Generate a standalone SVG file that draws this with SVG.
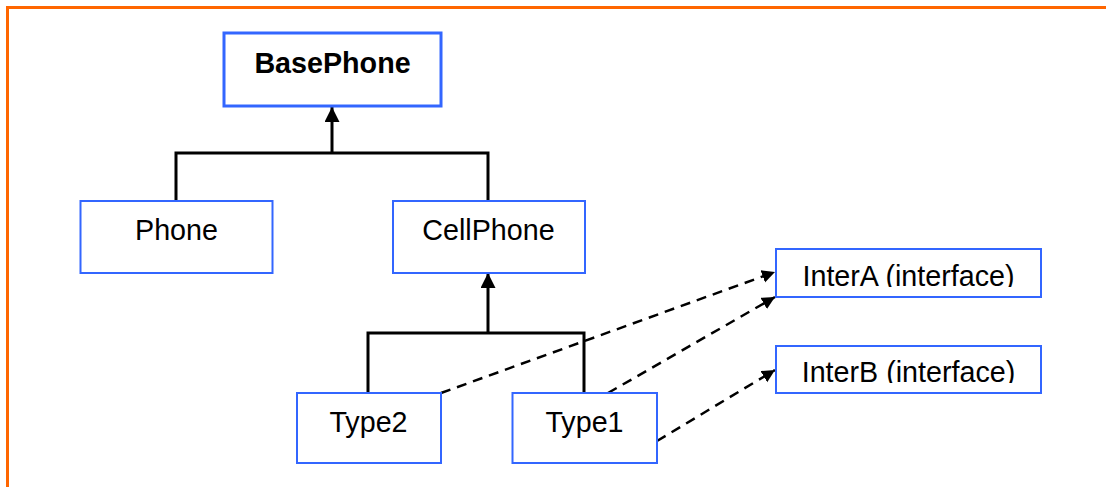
<svg xmlns="http://www.w3.org/2000/svg" width="1106" height="487" viewBox="0 0 1106 487">
  <style>
    .box { fill: #ffffff; stroke: #3366ff; stroke-width: 2; }
    .box-main { fill: #ffffff; stroke: #3366ff; stroke-width: 3; }
    .label { font-family: "Liberation Sans", Arial, sans-serif; font-size: 28.7px; fill: #000000; text-anchor: middle; }
    .bold { font-weight: bold; }
    .inherit { fill: none; stroke: #000000; stroke-width: 3; }
    .realize { fill: none; stroke: #000000; stroke-width: 2.5; stroke-dasharray: 10 7; }
  </style>
  <defs>
    <marker id="solidHead" markerUnits="userSpaceOnUse" markerWidth="16" markerHeight="16" refX="15" refY="7.5" orient="auto">
      <path d="M0,0 L15,7.5 L0,15 z" fill="#000000"/>
    </marker>
    <marker id="dashHead" markerUnits="userSpaceOnUse" markerWidth="14" markerHeight="14" refX="13" refY="6.5" orient="auto">
      <path d="M0,0 L13,6.5 L0,13 z" fill="#000000"/>
    </marker>
    <clipPath id="clipA"><rect x="776" y="249" width="265" height="38"/></clipPath>
    <clipPath id="clipB"><rect x="776" y="346" width="265" height="37"/></clipPath>
  </defs>

  <!-- outer frame -->
  <path d="M7.5,487 L7.5,7.5 L1106,7.5" fill="none" stroke="#ff6600" stroke-width="3"/>

  <g id="connectors">
    <polyline class="inherit" points="176,201 176,153 488,153 488,201"/>
    <line class="inherit" x1="332" y1="153" x2="332" y2="107" marker-end="url(#solidHead)"/>
    <polyline class="inherit" points="368,393 368,333 584,333 584,393"/>
    <line class="inherit" x1="488" y1="333" x2="488" y2="273" marker-end="url(#solidHead)"/>
    <line class="realize" x1="441" y1="393" x2="775" y2="272" marker-end="url(#dashHead)"/>
    <line class="realize" x1="608" y1="393" x2="775" y2="297" marker-end="url(#dashHead)"/>
    <line class="realize" x1="657" y1="441" x2="775" y2="370" marker-end="url(#dashHead)"/>
  </g>

  <g id="BasePhone">
    <rect class="box-main" x="224" y="33" width="217" height="73"/>
    <text class="label bold" x="332.5" y="72.5">BasePhone</text>
  </g>
  <g id="Phone">
    <rect class="box" x="80.5" y="201" width="192" height="72"/>
    <text class="label" x="176.5" y="240">Phone</text>
  </g>
  <g id="CellPhone">
    <rect class="box" x="393" y="201" width="192" height="72"/>
    <text class="label" x="488.5" y="240">CellPhone</text>
  </g>
  <g id="Type2">
    <rect class="box" x="297" y="393" width="144" height="70"/>
    <text class="label" x="368.5" y="431.5">Type2</text>
  </g>
  <g id="Type1">
    <rect class="box" x="512.5" y="393" width="144.5" height="70"/>
    <text class="label" x="584.5" y="431.5">Type1</text>
  </g>
  <g id="InterA">
    <rect class="box" x="776" y="249" width="265" height="48"/>
    <text class="label" x="908.5" y="285.5" clip-path="url(#clipA)">InterA (interface)</text>
  </g>
  <g id="InterB">
    <rect class="box" x="776" y="346" width="265" height="47"/>
    <text class="label" x="908.5" y="381.5" clip-path="url(#clipB)">InterB (interface)</text>
  </g>
</svg>
